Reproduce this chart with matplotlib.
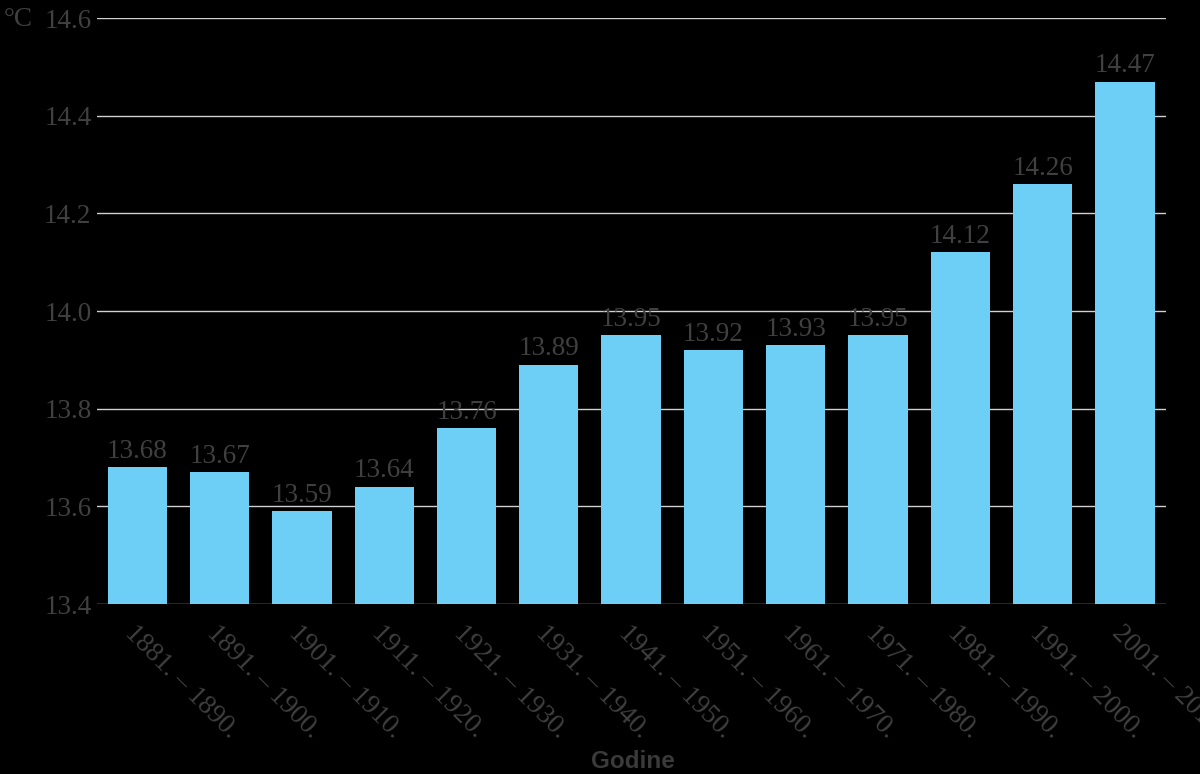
import numpy as np
import matplotlib
matplotlib.use('Agg')
import matplotlib.pyplot as plt

periods = ['1881. – 1890.', '1891. – 1900.', '1901. – 1910.', '1911. – 1920.',
           '1921. – 1930.', '1931. – 1940.', '1941. – 1950.', '1951. – 1960.',
           '1961. – 1970.', '1971. – 1980.', '1981. – 1990.', '1991. – 2000.',
           '2001. – 2010.']
temps = [13.68, 13.67, 13.59, 13.64, 13.76, 13.89, 13.95, 13.92, 13.93, 13.95,
         14.12, 14.26, 14.47]
yticks = [13.4, 13.6, 13.8, 14.0, 14.2, 14.4, 14.6]

bar_color = '#6dcff6'
text_color = '#404040'
serif = ['Liberation Serif', 'DejaVu Serif']
fs = 19.5

fig = plt.figure(figsize=(12, 7.74), dpi=100, facecolor='black')
ax = fig.add_axes([0.0808, 0.2196, 0.8909, 0.7571], facecolor='black')

x = np.arange(len(periods))
ax.bar(x, np.array(temps) - 13.4, bottom=13.4, width=0.72, color=bar_color, zorder=2)

# value labels above the bars
for xi, t in zip(x, temps):
    ax.annotate(f'{t:.2f}', (xi, t), xytext=(0, 2.5), textcoords='offset points',
                ha='center', va='bottom', fontsize=fs, color=text_color,
                family=serif, zorder=3)

ax.set_xlim(-0.49, 12.5)
ax.set_ylim(13.4, 14.6)
ax.set_yticks(yticks)
ax.set_yticklabels([f'{v:.1f}' for v in yticks], family=serif, fontsize=fs,
                   color=text_color)
ax.yaxis.grid(True, color='#d0d0d0', linewidth=1.0, zorder=1)
ax.tick_params(axis='y', length=0, pad=4)
ax.set_axisbelow(True)
for s in ax.spines.values():
    s.set_visible(False)

ax.set_xticks(x)
ax.set_xticklabels(periods, rotation=-45, ha='left', va='top',
                   rotation_mode='anchor', family=serif, fontsize=fs,
                   color=text_color)
ax.tick_params(axis='x', length=0, pad=12)

ax.set_xlabel('Godine', family=['Liberation Sans', 'DejaVu Sans'],
              fontweight='bold', fontsize=17.5, color='#3a3a3a')
ax.xaxis.set_label_coords(633 / 1200, 24 / 774, transform=fig.transFigure)

fig.text(4 / 1200, 1 - 19 / 774, '°C', family=serif, fontsize=fs,
         color=text_color, ha='left', va='center')

fig.savefig('out.png', dpi=100, facecolor='black')
